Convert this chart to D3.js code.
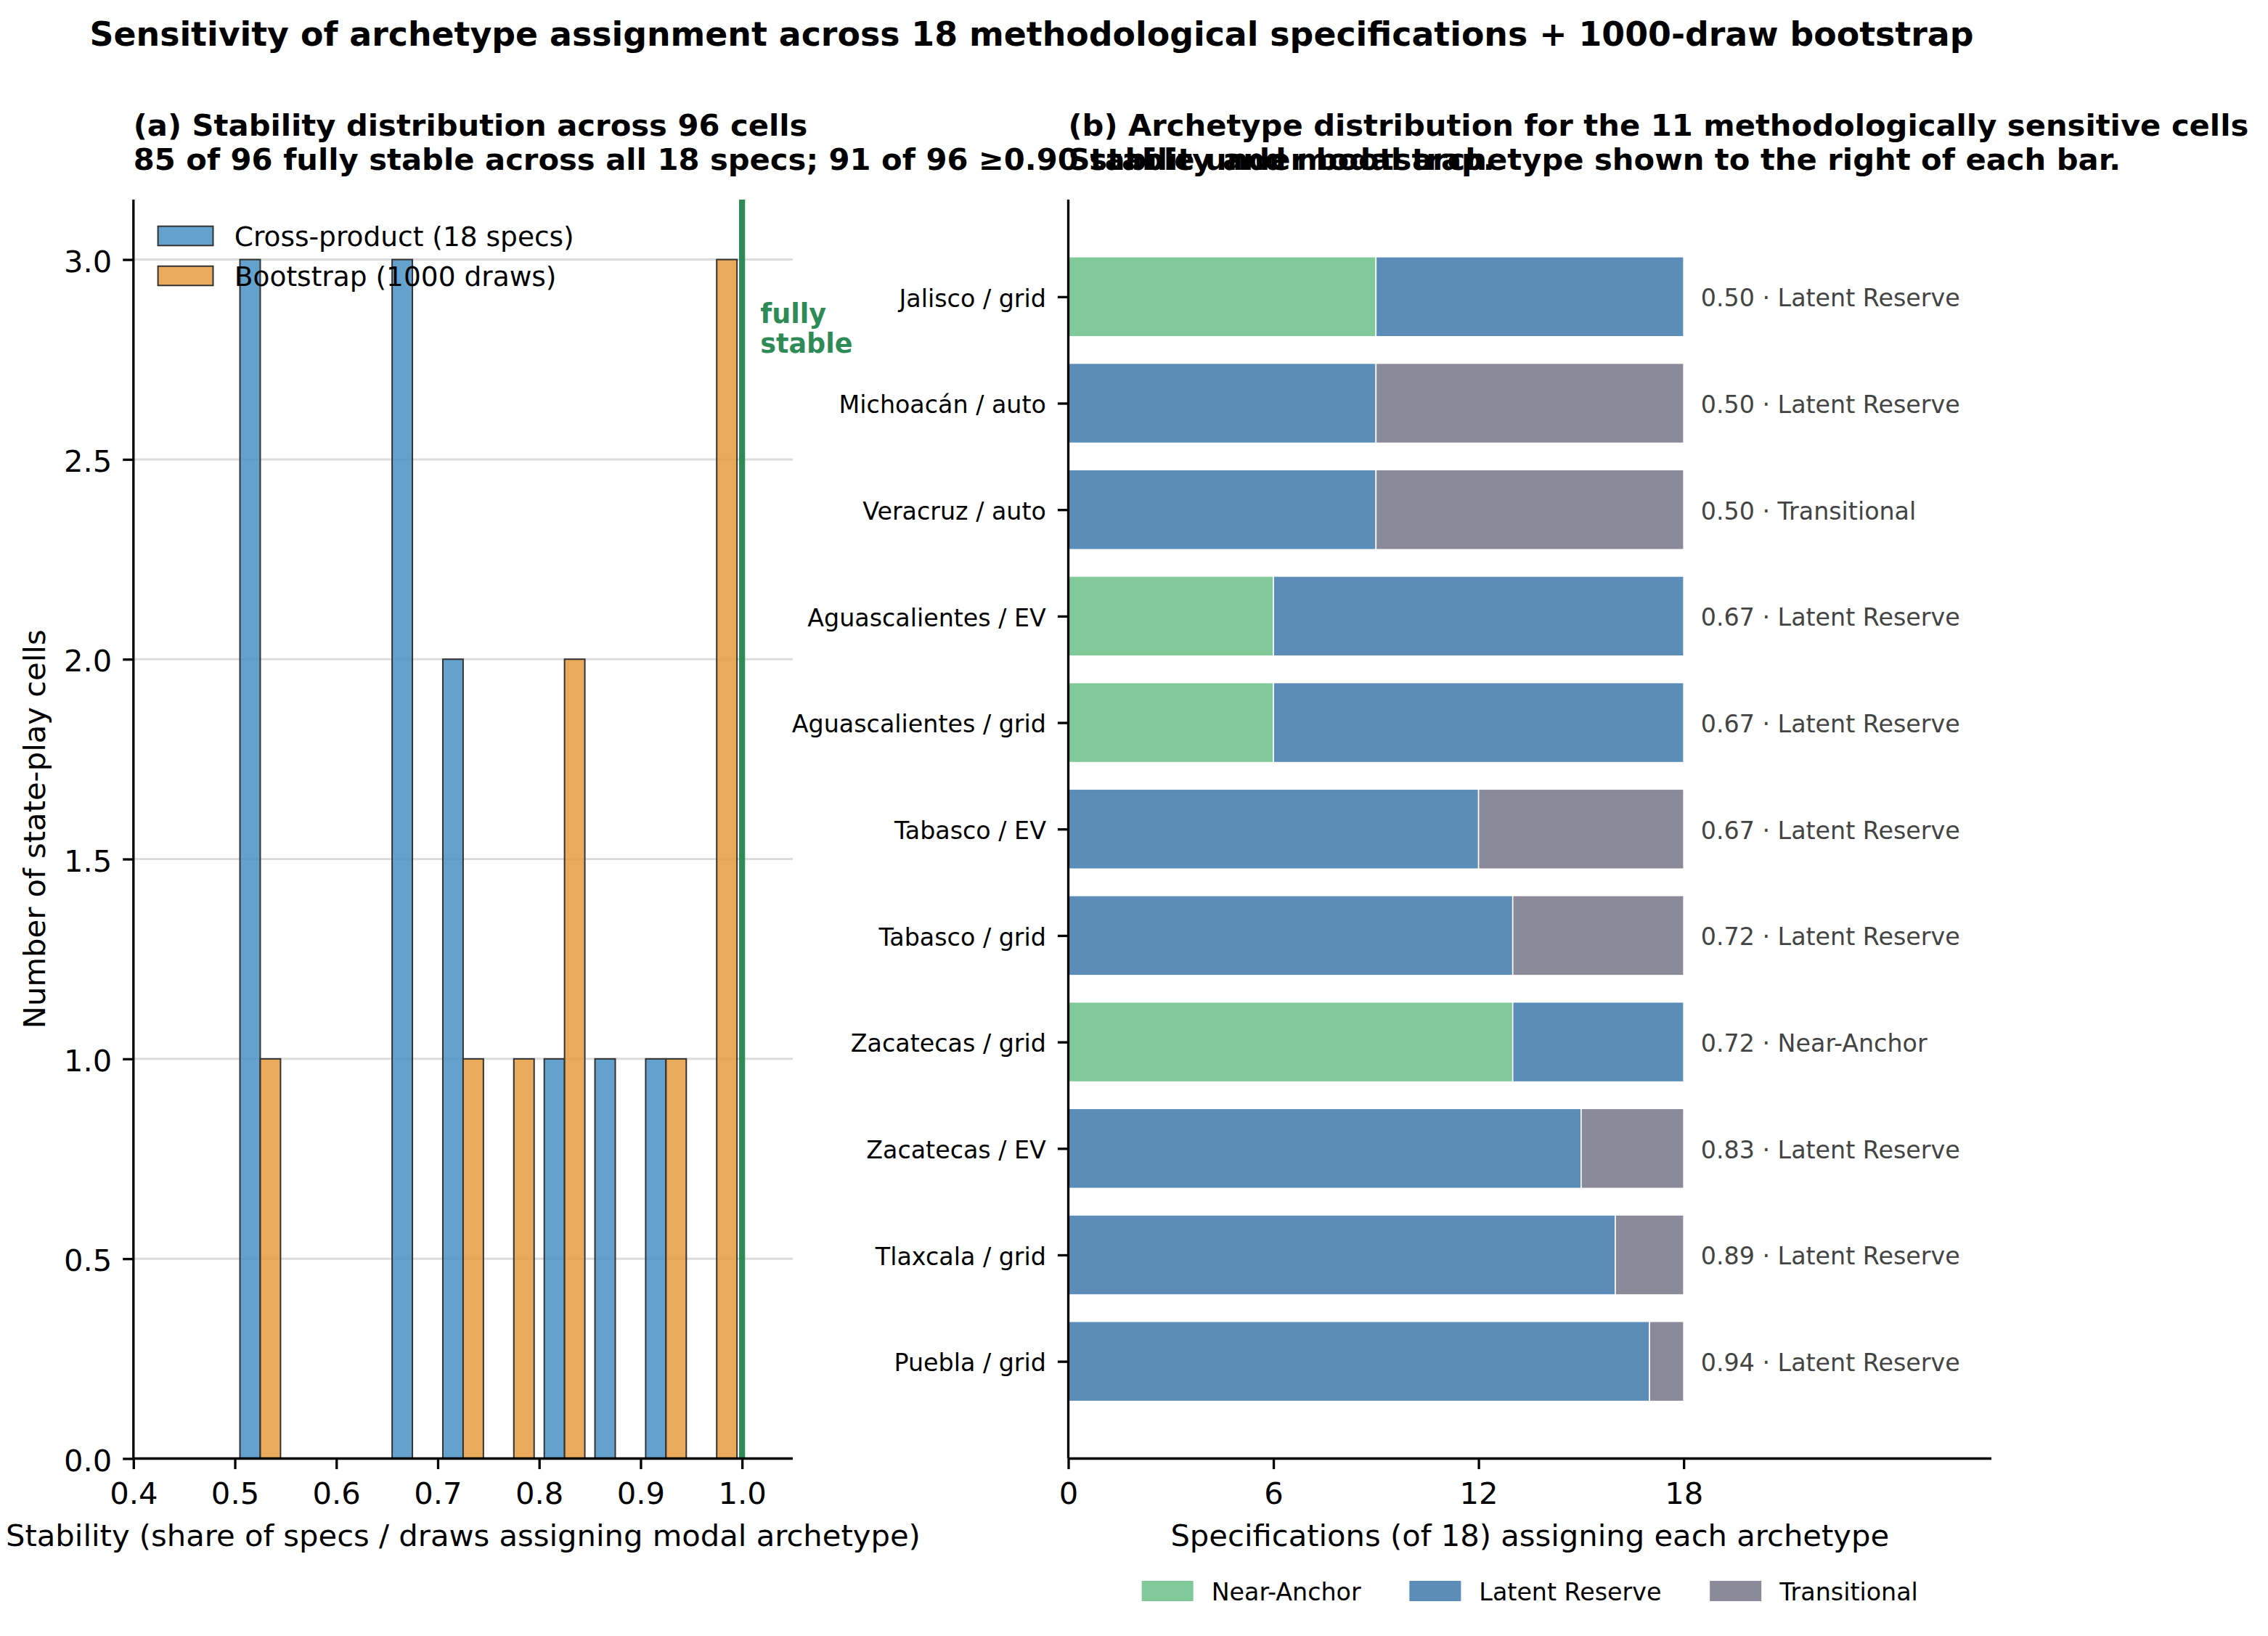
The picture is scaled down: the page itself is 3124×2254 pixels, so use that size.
<!DOCTYPE html>
<html>
<head>
<meta charset="utf-8">
<script src="https://cdn.jsdelivr.net/npm/d3@7"></script>
<style>
  html, body { margin: 0; padding: 0; background: #ffffff; }
  svg { display: block; font-family: "DejaVu Sans", sans-serif; }
</style>
</head>
<body>
<script>
// ---------------- DATA ----------------
// Panel (a): histogram bin edges and counts per bin
const binEdges = [0.50, 0.55, 0.60, 0.65, 0.70, 0.75, 0.80, 0.85, 0.90, 0.95, 1.00];
const crossCounts = [3, 0, 0, 3, 2, 0, 1, 1, 1, 0];
const bootCounts  = [1, 0, 0, 0, 1, 1, 2, 0, 1, 3];
const histSeries = ["Cross-product (18 specs)", "Bootstrap (1000 draws)"];
const xTicksA = [0.4, 0.5, 0.6, 0.7, 0.8, 0.9, 1.0];
const yTicksA = [0.0, 0.5, 1.0, 1.5, 2.0, 2.5, 3.0];
const fullyStableX = 1.0;

// Panel (b): archetype counts (of 18 specs) for sensitive cells
const cells = ["Jalisco / grid", "Michoacán / auto", "Veracruz / auto", "Aguascalientes / EV",
  "Aguascalientes / grid", "Tabasco / EV", "Tabasco / grid", "Zacatecas / grid",
  "Zacatecas / EV", "Tlaxcala / grid", "Puebla / grid"];
const nearAnchor    = [9, 0, 0, 6, 6, 0, 0, 13, 0, 0, 0];
const latentReserve = [9, 9, 9, 12, 12, 12, 13, 5, 15, 16, 17];
const transitional  = [0, 9, 9, 0, 0, 6, 5, 0, 3, 2, 1];
const stability = ["0.50", "0.50", "0.50", "0.67", "0.67", "0.67", "0.72", "0.72", "0.83", "0.89", "0.94"];
const modal = ["Latent Reserve", "Latent Reserve", "Transitional", "Latent Reserve", "Latent Reserve",
  "Latent Reserve", "Latent Reserve", "Near-Anchor", "Latent Reserve", "Latent Reserve", "Latent Reserve"];
const archetypes = ["Near-Anchor", "Latent Reserve", "Transitional"];
const xTicksB = [0, 6, 12, 18];
const nSpecs = 18;

// ---------------- STYLE ----------------
const W = 3124, H = 2254;
const FONT = "DejaVu Sans";
const histColors = ["#4a90c4", "#e69b40"];
const archColors = ["#80ca9a", "#5b8db8", "#8b8a9a"];
const green = "#2e8b57";
const spineW = 3.33, tickLen = 14.6;
const fTick = 41.7, fLabel = 41.7, fTitle = 41.7, fSup = 45.8, fLegA = 37.5, fSmall = 33.3;

const svg = d3.select("body").append("svg").attr("width", W).attr("height", H);
svg.append("rect").attr("width", W).attr("height", H).attr("fill", "#fff");

// ---------------- PANEL A ----------------
const A = {left: 183.8, right: 1092, top: 275, bottom: 2009.5};
const xA = d3.scaleLinear().domain([0.4, 1.05]).range([A.left, A.right]);
const yA = d3.scaleLinear().domain([0, 3.15]).range([A.bottom, A.top]);

const gA = svg.append("g");
// grid
gA.selectAll("line.grid").data(yTicksA.filter(d => d > 0)).enter().append("line")
  .attr("x1", A.left).attr("x2", A.right)
  .attr("y1", d => yA(d)).attr("y2", d => yA(d))
  .attr("stroke", "#dcdcdc").attr("stroke-width", 3);

// histogram bars (grouped, matplotlib-style)
const binData = [];
for (let i = 0; i < binEdges.length - 1; i++) {
  const bw = binEdges[i + 1] - binEdges[i];
  const dw = bw * 0.8 / 2;
  [crossCounts[i], bootCounts[i]].forEach((c, s) => {
    if (c > 0) binData.push({x0: binEdges[i] + bw * 0.1 + s * dw, x1: binEdges[i] + bw * 0.1 + (s + 1) * dw, c, s});
  });
}
gA.selectAll("rect.bar").data(binData).enter().append("rect")
  .attr("x", d => xA(d.x0)).attr("width", d => xA(d.x1) - xA(d.x0))
  .attr("y", d => yA(d.c)).attr("height", d => yA(0) - yA(d.c))
  .attr("fill", d => histColors[d.s]).attr("fill-opacity", 0.85)
  .attr("stroke", "#333").attr("stroke-width", 2);

// fully stable line
gA.append("line").attr("x1", xA(fullyStableX)).attr("x2", xA(fullyStableX))
  .attr("y1", A.top).attr("y2", A.bottom).attr("stroke", green).attr("stroke-width", 8.3);
const fsText = gA.append("text").attr("x", xA(1.018)).attr("y", yA(2.841))
  .attr("fill", green).attr("font-weight", "bold").attr("font-size", 36.5);
fsText.append("tspan").attr("x", xA(1.018)).text("fully");
fsText.append("tspan").attr("x", xA(1.018)).attr("dy", 41).text("stable");

// axes
const axA_x = gA.append("g").attr("transform", `translate(0,${A.bottom})`)
  .call(d3.axisBottom(xA).tickValues(xTicksA).tickFormat(d3.format(".1f")).tickSize(tickLen).tickSizeOuter(0).tickPadding(18.3));
const axA_y = gA.append("g").attr("transform", `translate(${A.left},0)`)
  .call(d3.axisLeft(yA).tickValues(yTicksA).tickFormat(d3.format(".1f")).tickSize(tickLen).tickSizeOuter(0).tickPadding(15));
[axA_x, axA_y].forEach(ax => {
  ax.selectAll("path.domain").attr("stroke", "#000").attr("stroke-width", spineW);
  ax.selectAll(".tick line").attr("stroke", "#000").attr("stroke-width", spineW);
  ax.selectAll(".tick text").attr("font-family", FONT).attr("font-size", fTick).attr("fill", "#000");
});
axA_y.selectAll(".tick text").attr("dy", "0.4em");
axA_y.select("path.domain").attr("d", `M0,${A.top}V${A.bottom}`);
axA_x.select("path.domain").attr("d", `M${A.left},0H${A.right}`);

// axis labels
svg.append("text").attr("x", (A.left + A.right) / 2).attr("y", 2130)
  .attr("text-anchor", "middle").attr("font-size", fLabel)
  .text("Stability (share of specs / draws assigning modal archetype)");
svg.append("text").attr("transform", `translate(62,${(A.top + A.bottom) / 2}) rotate(-90)`)
  .attr("text-anchor", "middle").attr("font-size", fLabel)
  .text("Number of state-play cells");

// legend A
const legA = svg.append("g");
histSeries.forEach((name, i) => {
  const cy = 325 + i * 55;
  legA.append("rect").attr("x", A.left + 33.8).attr("y", cy - 13.3).attr("width", 75.9).attr("height", 26.6)
    .attr("fill", histColors[i]).attr("fill-opacity", 0.85).attr("stroke", "#333").attr("stroke-width", 2);
  legA.append("text").attr("x", A.left + 139).attr("y", cy).attr("dy", "0.38em")
    .attr("font-size", fLegA).text(name);
});

// ---------------- PANEL B ----------------
const B = {left: 1471.5, right: 2743, top: 275, bottom: 2009.5};
const xB = d3.scaleLinear().domain([0, 27]).range([B.left, B.right]);
const yB = d3.scaleLinear().domain([-0.9125, 10.9125]).range([B.top, B.bottom]);
const barH = 0.75;

const rows = cells.map((c, i) => ({cell: c, "Near-Anchor": nearAnchor[i], "Latent Reserve": latentReserve[i], "Transitional": transitional[i], i}));
const stacked = d3.stack().keys(archetypes)(rows);
const gB = svg.append("g");
stacked.forEach((layer, k) => {
  gB.selectAll(null).data(layer.filter(d => d[1] > d[0])).enter().append("rect")
    .attr("x", d => xB(d[0])).attr("width", d => xB(d[1]) - xB(d[0]))
    .attr("y", d => yB(d.data.i - barH / 2)).attr("height", d => yB(barH) - yB(0))
    .attr("fill", archColors[k]).attr("stroke", "#fff").attr("stroke-width", 1.6);
});
// annotations
gB.selectAll("text.ann").data(rows).enter().append("text")
  .attr("x", xB(nSpecs + 0.5)).attr("y", d => yB(d.i)).attr("dy", "0.4em")
  .attr("font-size", fSmall).attr("fill", "#444")
  .text(d => `${stability[d.i]} · ${modal[d.i]}`);

const axB_x = gB.append("g").attr("transform", `translate(0,${B.bottom})`)
  .call(d3.axisBottom(xB).tickValues(xTicksB).tickFormat(d3.format("d")).tickSize(tickLen).tickSizeOuter(0).tickPadding(18.3));
const axB_y = gB.append("g").attr("transform", `translate(${B.left},0)`)
  .call(d3.axisLeft(yB).tickValues(d3.range(cells.length)).tickFormat(i => cells[i]).tickSize(tickLen).tickSizeOuter(0).tickPadding(16));
[axB_x, axB_y].forEach(ax => {
  ax.selectAll("path.domain").attr("stroke", "#000").attr("stroke-width", spineW);
  ax.selectAll(".tick line").attr("stroke", "#000").attr("stroke-width", spineW);
  ax.selectAll(".tick text").attr("font-family", FONT).attr("fill", "#000");
});
axB_x.selectAll(".tick text").attr("font-size", fTick);
axB_y.selectAll(".tick text").attr("font-size", fSmall).attr("dy", "0.4em");
axB_y.select("path.domain").attr("d", `M0,${B.top}V${B.bottom}`);
axB_x.select("path.domain").attr("d", `M${B.left},0H${B.right}`);

svg.append("text").attr("x", (B.left + B.right) / 2).attr("y", 2130)
  .attr("text-anchor", "middle").attr("font-size", fLabel)
  .text("Specifications (of 18) assigning each archetype");

// legend B (centered under panel B)
const legB = svg.append("g");
const handleW = 71, handleH = 28, handlePad = 25, colSpace = 66.7;
let cursor = 0;
const items = archetypes.map((name, k) => {
  const g = legB.append("g");
  g.append("rect").attr("x", 0).attr("y", -handleH / 2).attr("width", handleW).attr("height", handleH).attr("fill", archColors[k]);
  const t = g.append("text").attr("x", handleW + handlePad).attr("dy", "0.4em").attr("font-size", fSmall).text(name);
  const w = handleW + handlePad + t.node().getComputedTextLength();
  const item = {g, x: cursor};
  cursor += w + colSpace;
  return item;
});
const totalW = cursor - colSpace;
const legStart = (B.left + B.right) / 2 - totalW / 2;
items.forEach(it => it.g.attr("transform", `translate(${legStart + it.x},2192)`));

// ---------------- TITLES ----------------
svg.append("text").attr("x", 1421).attr("y", 63).attr("text-anchor", "middle")
  .attr("font-weight", "bold").attr("font-size", fSup)
  .text("Sensitivity of archetype assignment across 18 methodological specifications + 1000-draw bootstrap");

function title(x, lines) {
  const t = svg.append("text").attr("x", x).attr("y", 186.5).attr("font-weight", "bold").attr("font-size", fTitle);
  lines.forEach((l, i) => t.append("tspan").attr("x", x).attr("dy", i === 0 ? 0 : 47.5).text(l));
}
title(A.left, ["(a) Stability distribution across 96 cells",
  "85 of 96 fully stable across all 18 specs; 91 of 96 ≥0.90 stable under bootstrap."]);
title(B.left, ["(b) Archetype distribution for the 11 methodologically sensitive cells",
  "Stability and modal archetype shown to the right of each bar."]);
</script>
</body>
</html>
